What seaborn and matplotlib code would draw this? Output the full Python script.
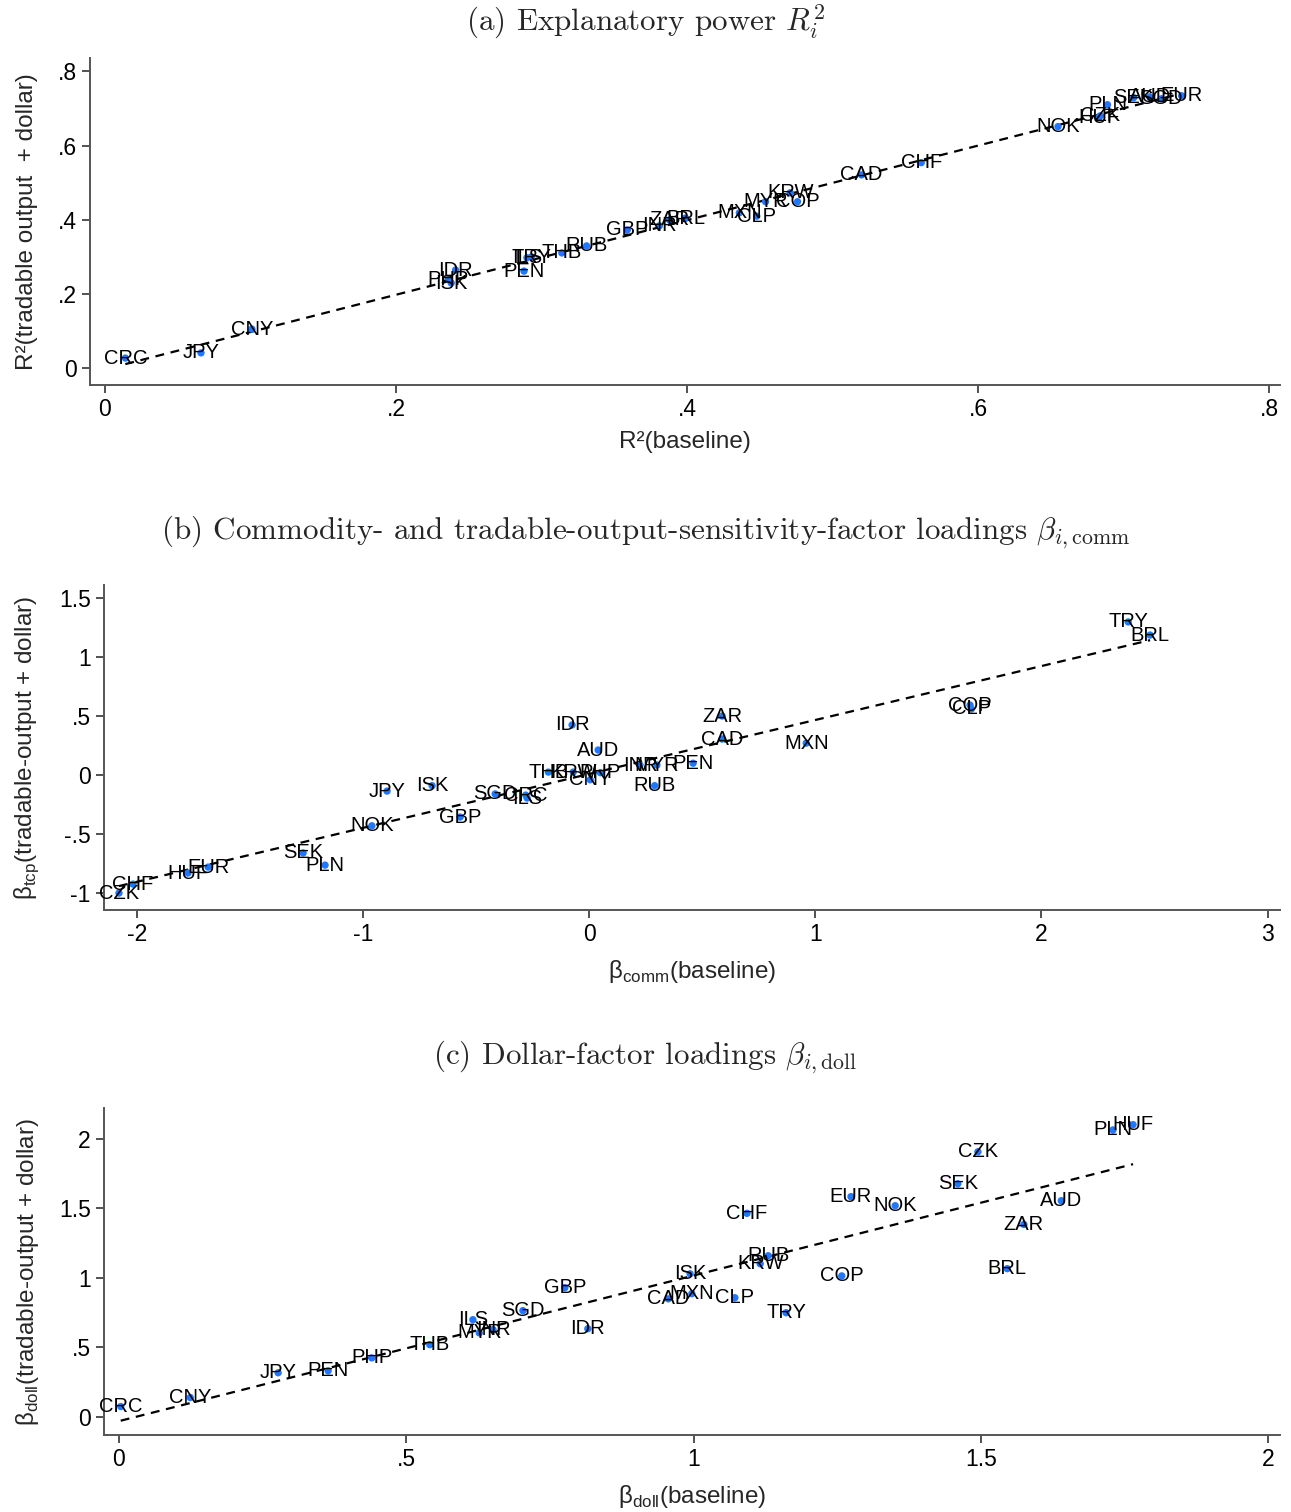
import numpy as np
import pandas as pd
import matplotlib
matplotlib.use("Agg")
import matplotlib.pyplot as plt
import seaborn as sns

# ---- Panel (a): R^2 baseline vs. tradable-output + dollar ----
cur_a = ["CRC", "JPY", "CNY", "IDR", "PHP", "ISK", "ILS", "TRY", "PEN", "THB",
         "RUB", "GBP", "INR", "ZAR", "BRL", "MXN", "CLP", "MYR", "KRW", "COP",
         "CAD", "CHF", "NOK", "CZK", "HUF", "PLN", "SEK", "AUD", "SGD", "EUR"]
r2_base = [0.014, 0.066, 0.101, 0.241, 0.236, 0.238, 0.290, 0.293, 0.288, 0.314,
           0.331, 0.359, 0.381, 0.388, 0.399, 0.436, 0.448, 0.454, 0.471, 0.476,
           0.520, 0.561, 0.655, 0.684, 0.683, 0.689, 0.707, 0.718, 0.726, 0.740]
r2_tcp = [0.028, 0.042, 0.106, 0.265, 0.239, 0.230, 0.298, 0.300, 0.262, 0.311,
          0.330, 0.373, 0.384, 0.400, 0.405, 0.419, 0.410, 0.449, 0.473, 0.449,
          0.521, 0.554, 0.651, 0.680, 0.675, 0.710, 0.729, 0.731, 0.726, 0.734]

# ---- Panel (b): commodity-factor loadings ----
cur_b = ["TRY", "BRL", "COP", "CLP", "ZAR", "CAD", "MXN", "IDR", "AUD", "THB",
         "KRW", "PHP", "CNY", "INR", "MYR", "PEN", "RUB", "ISK", "SGD", "ILS",
         "CRC", "JPY", "GBP", "NOK", "SEK", "PLN", "EUR", "HUF", "CHF", "CZK"]
bcomm_base = [2.383, 2.480, 1.684, 1.690, 0.588, 0.588, 0.960, -0.075, 0.040, -0.180,
              -0.070, 0.050, 0.005, 0.225, 0.300, 0.460, 0.290, -0.694, -0.415, -0.274,
              -0.280, -0.893, -0.570, -0.960, -1.264, -1.167, -1.684, -1.773, -2.016, -2.078]
bcomm_tcp = [1.297, 1.186, 0.593, 0.560, 0.500, 0.305, 0.270, 0.424, 0.212, 0.025,
             0.025, 0.020, -0.040, 0.085, 0.085, 0.100, -0.090, -0.090, -0.160, -0.195,
             -0.170, -0.136, -0.356, -0.430, -0.660, -0.763, -0.780, -0.830, -0.924, -1.000]

# ---- Panel (c): dollar-factor loadings ----
cur_c = ["CRC", "CNY", "JPY", "PEN", "PHP", "THB", "ILS", "MYR", "INR", "SGD",
         "GBP", "IDR", "ISK", "CAD", "MXN", "CLP", "KRW", "RUB", "TRY", "CHF",
         "COP", "EUR", "NOK", "SEK", "CZK", "AUD", "ZAR", "BRL", "PLN", "HUF"]
bdoll_base = [0.003, 0.124, 0.277, 0.364, 0.440, 0.541, 0.616, 0.627, 0.651, 0.703,
              0.776, 0.816, 0.994, 0.956, 0.997, 1.072, 1.116, 1.130, 1.161, 1.093,
              1.258, 1.274, 1.351, 1.460, 1.495, 1.640, 1.575, 1.546, 1.730, 1.765]
bdoll_tcp = [0.075, 0.140, 0.318, 0.332, 0.425, 0.520, 0.700, 0.605, 0.628, 0.765,
             0.930, 0.635, 1.030, 0.850, 0.887, 0.858, 1.102, 1.160, 0.750, 1.465,
             1.015, 1.585, 1.520, 1.678, 1.908, 1.556, 1.385, 1.067, 2.065, 2.103]

# ---- Tick positions and labels ----
xt_a = [0, 0.2, 0.4, 0.6, 0.8]; xtl_a = ["0", ".2", ".4", ".6", ".8"]
yt_a = [0, 0.2, 0.4, 0.6, 0.8]; ytl_a = ["0", ".2", ".4", ".6", ".8"]
xt_b = [-2, -1, 0, 1, 2, 3]; xtl_b = ["-2", "-1", "0", "1", "2", "3"]
yt_b = [-1, -0.5, 0, 0.5, 1, 1.5]; ytl_b = ["-1", "-.5", "0", ".5", "1", "1.5"]
xt_c = [0, 0.5, 1, 1.5, 2]; xtl_c = ["0", ".5", "1", "1.5", "2"]
yt_c = [0, 0.5, 1, 1.5, 2]; ytl_c = ["0", ".5", "1", "1.5", "2"]

sns.set_theme(style="ticks")
plt.rcParams["font.family"] = ["Liberation Sans", "DejaVu Sans"]
plt.rcParams["axes.unicode_minus"] = False

DOT = "#1f78ff"
SANS = ["Liberation Sans", "DejaVu Sans"]

fig = plt.figure(figsize=(12.91, 15.12), dpi=100)

panels = [
    dict(rect=[0.0697, 0.7454, 0.9218, 0.2163], cur=cur_a, x=r2_base, y=r2_tcp,
         xlim=(-0.0103, 0.8076), ylim=(-0.0444, 0.836),
         xt=xt_a, xtl=xtl_a, yt=yt_a, ytl=ytl_a,
         xlabel="R²(baseline)", ylabel="R²(tradable output  + dollar)",
         ylc=-0.0437, xlc=-0.142,
         title=r"(a) Explanatory power $R_i^2$", ty=0.9854),
    dict(rect=[0.0806, 0.3981, 0.9110, 0.2150], cur=cur_b, x=bcomm_base, y=bcomm_tcp,
         xlim=(-2.144, 3.055), ylim=(-1.144, 1.61),
         xt=xt_b, xtl=xtl_b, yt=yt_b, ytl=ytl_b,
         xlabel=r"β$_\mathregular{comm}$(baseline)",
         ylabel=r"β$_\mathregular{tcp}$(tradable-output + dollar)",
         ylc=-0.054, xlc=-0.146,
         title=r"(b) Commodity- and tradable-output-sensitivity-factor loadings $\beta_{i,\mathrm{comm}}$",
         ty=0.6481),
    dict(rect=[0.0806, 0.0509, 0.9110, 0.2163], cur=cur_c, x=bdoll_base, y=bdoll_tcp,
         xlim=(-0.026, 2.021), ylim=(-0.13, 2.223),
         xt=xt_c, xtl=xtl_c, yt=yt_c, ytl=ytl_c,
         xlabel=r"β$_\mathregular{doll}$(baseline)",
         ylabel=r"β$_\mathregular{doll}$(tradable-output + dollar)",
         ylc=-0.054, xlc=-0.146,
         title=r"(c) Dollar-factor loadings $\beta_{i,\mathrm{doll}}$", ty=0.3009),
]

for p in panels:
    ax = fig.add_axes(p["rect"])
    df = pd.DataFrame({"cur": p["cur"], "x": p["x"], "y": p["y"]})
    # fitted line through the points
    sns.regplot(data=df, x="x", y="y", ax=ax, scatter=False, ci=None,
                line_kws=dict(color="black", lw=1.6, ls=(0, (4, 3))))
    sns.scatterplot(data=df, x="x", y="y", ax=ax, color=DOT, s=28,
                    edgecolor="none", zorder=3)
    for _, r in df.iterrows():
        ax.text(r["x"], r["y"], r["cur"], ha="center", va="center",
                fontsize=14.5, color="black", family=SANS, zorder=4)

    ax.set_xlim(*p["xlim"])
    ax.set_ylim(*p["ylim"])
    ax.set_xticks(p["xt"])
    ax.set_xticklabels(p["xtl"])
    ax.set_yticks(p["yt"])
    ax.set_yticklabels(p["ytl"])
    ax.tick_params(axis="both", direction="out", length=6, width=1.2,
                   colors="#333333", labelcolor="black", labelsize=16.5)
    for s in ["top", "right"]:
        ax.spines[s].set_visible(False)
    for s in ["left", "bottom"]:
        ax.spines[s].set_color("#555555")
        ax.spines[s].set_linewidth(1.4)

    ax.set_xlabel(p["xlabel"], fontsize=17.5, family=SANS)
    ax.set_ylabel(p["ylabel"], fontsize=17.5, family=SANS)
    ax.xaxis.set_label_coords(0.5, p["xlc"])
    ax.yaxis.set_label_coords(p["ylc"], 0.5)

    fig.text(0.5, p["ty"], p["title"], ha="center", va="center",
             fontsize=22.4, family="cmr10", math_fontfamily="cm")

fig.savefig("out.png", dpi=100, facecolor="white")
